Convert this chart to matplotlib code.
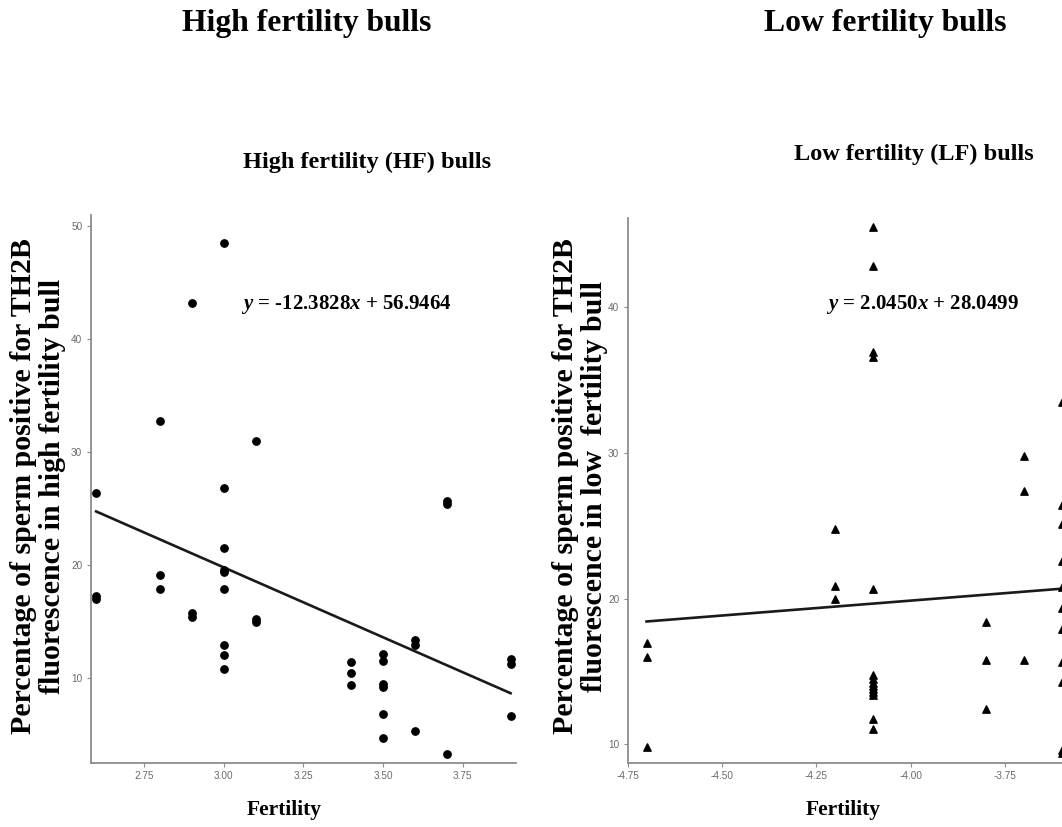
import matplotlib
matplotlib.use('Agg')
import matplotlib.pyplot as plt
import numpy as np

# TH2B positive sperm (%) against fertility score
hf_fertility = [2.6, 2.6, 2.6,
                2.8, 2.8, 2.8,
                2.9, 2.9, 2.9,
                3.0, 3.0, 3.0, 3.0, 3.0, 3.0, 3.0, 3.0, 3.0,
                3.1, 3.1, 3.1,
                3.4, 3.4, 3.4,
                3.5, 3.5, 3.5, 3.5, 3.5, 3.5,
                3.6, 3.6, 3.6,
                3.7, 3.7, 3.7,
                3.9, 3.9, 3.9]
hf_th2b = [26.4, 17.3, 17.0,
           32.8, 19.1, 17.9,
           43.2, 15.8, 15.4,
           48.5, 26.8, 21.5, 19.6, 19.4, 17.85, 12.9, 12.0, 10.8,
           31.0, 15.2, 15.0,
           11.4, 10.4, 9.35,
           12.1, 11.5, 9.5, 9.2, 6.8, 4.7,
           13.4, 12.9, 5.3,
           25.7, 25.4, 3.3,
           11.7, 11.2, 6.6]

lf_fertility = [-4.7, -4.7, -4.7,
                -4.2, -4.2, -4.2,
                -4.1, -4.1, -4.1, -4.1, -4.1, -4.1, -4.1, -4.1, -4.1, -4.1, -4.1, -4.1, -4.1, -4.1,
                -3.8, -3.8, -3.8,
                -3.7, -3.7, -3.7,
                -3.6, -3.6, -3.6, -3.6, -3.6, -3.6, -3.6, -3.6, -3.6, -3.6, -3.6]
lf_th2b = [16.95, 16.0, 9.85,
           24.8, 20.85, 20.0,
           45.5, 42.8, 36.9, 36.6, 20.7, 14.8, 14.5, 14.2, 14.0, 13.8, 13.6, 13.4, 11.75, 11.05,
           18.4, 15.8, 12.4,
           29.8, 27.4, 15.8,
           33.5, 26.4, 25.1, 22.6, 20.8, 19.35, 17.9, 15.65, 14.3, 9.6, 9.4]

hf_slope, hf_intercept = -12.3828, 56.9464
lf_slope, lf_intercept = 2.0450, 28.0499

hf_xticks = [2.75, 3.00, 3.25, 3.50, 3.75]
hf_yticks = [10, 20, 30, 40, 50]
lf_xticks = [-4.75, -4.50, -4.25, -4.00, -3.75]
lf_yticks = [10, 20, 30, 40]

plt.rcParams['font.family'] = ['Liberation Serif', 'DejaVu Serif']
plt.rcParams['mathtext.fontset'] = 'custom'
plt.rcParams['mathtext.rm'] = 'Liberation Serif:bold'
plt.rcParams['mathtext.it'] = 'Liberation Serif:italic:bold'
plt.rcParams['mathtext.bf'] = 'Liberation Serif:bold'

W, H = 1062, 827
fig = plt.figure(figsize=(W / 100, H / 100), dpi=100)


def fx(px):
    return px / W


def fy(py):
    return 1 - py / H


def style_axes(ax, xticks, yticks):
    for side in ['top', 'right']:
        ax.spines[side].set_visible(False)
    for side in ['left', 'bottom']:
        ax.spines[side].set_color('#8c8c8c')
        ax.spines[side].set_linewidth(1.3)
    ax.set_xticks(xticks)
    ax.set_yticks(yticks)
    ax.set_xticklabels([f'{t:.2f}' for t in xticks])
    ax.set_yticklabels([str(t) for t in yticks])
    ax.tick_params(length=3, width=0.8, color='#8c8c8c', labelsize=7.2,
                   labelcolor='#6a6a6a', pad=3)
    for lab in ax.get_xticklabels() + ax.get_yticklabels():
        lab.set_family(['Liberation Sans', 'DejaVu Sans'])


# high fertility panel
ax1 = fig.add_axes([fx(90.7), fy(762.7), fx(516 - 90.7), (762.7 - 215) / H])
ax1.scatter(hf_fertility, hf_th2b, s=28, color='black', marker='o', zorder=3)
xs = np.array([min(hf_fertility), max(hf_fertility)])
ax1.plot(xs, hf_slope * xs + hf_intercept, color='#1a1a1a', lw=1.9)
ax1.set_xlim(min(hf_fertility) - 0.017, max(hf_fertility) + 0.017)
ax1.set_ylim(2.5, 51)
style_axes(ax1, hf_xticks, hf_yticks)

# low fertility panel, runs past the right edge
ax2 = fig.add_axes([fx(627.7), fy(762.7), fx(1068 - 627.7), (762.7 - 218.3) / H])
ax2.scatter(lf_fertility, lf_th2b, s=28, color='black', marker='^', zorder=3)
xs = np.array([min(lf_fertility), max(lf_fertility)])
ax2.plot(xs, lf_slope * xs + lf_intercept, color='#1a1a1a', lw=1.9)
ax2.set_xlim(min(lf_fertility) - 0.017, max(lf_fertility) + 0.017)
ax2.set_ylim(8.75, 46.1)
style_axes(ax2, lf_xticks, lf_yticks)

# headings
fig.text(fx(307), fy(23), 'High fertility bulls', ha='center', va='center',
         fontsize=22.8, fontweight='bold')
fig.text(fx(885), fy(23), 'Low fertility bulls', ha='center', va='center',
         fontsize=22.8, fontweight='bold')
fig.text(fx(367.5), fy(162), 'High fertility (HF) bulls', ha='center', va='center',
         fontsize=17.5, fontweight='bold')
fig.text(fx(913.5), fy(154), 'Low fertility (LF) bulls', ha='center', va='center',
         fontsize=17.5, fontweight='bold')

# regression equations
fig.text(fx(346.5), fy(304), r'$y$ = -12.3828$x$ + 56.9464', ha='center', va='center',
         fontsize=15, fontweight='bold')
fig.text(fx(923), fy(304), r'$y$ = 2.0450$x$ + 28.0499', ha='center', va='center',
         fontsize=15, fontweight='bold')

# axis titles
fig.text(fx(38), fy(486), 'Percentage of sperm positive for TH2B\nfluorescence in high fertility bull',
         rotation=90, ha='center', va='center', multialignment='center',
         fontsize=21.5, fontweight='bold', linespacing=1.05)
fig.text(fx(580), fy(486), 'Percentage of sperm positive for TH2B\nfluorescence in low  fertility bull',
         rotation=90, ha='center', va='center', multialignment='center',
         fontsize=21.5, fontweight='bold', linespacing=1.05)
fig.text(fx(283.7), fy(810), 'Fertility', ha='center', va='center',
         fontsize=15.5, fontweight='bold')
fig.text(fx(843.3), fy(810), 'Fertility', ha='center', va='center',
         fontsize=15.5, fontweight='bold')

fig.savefig('out.png', dpi=100)
